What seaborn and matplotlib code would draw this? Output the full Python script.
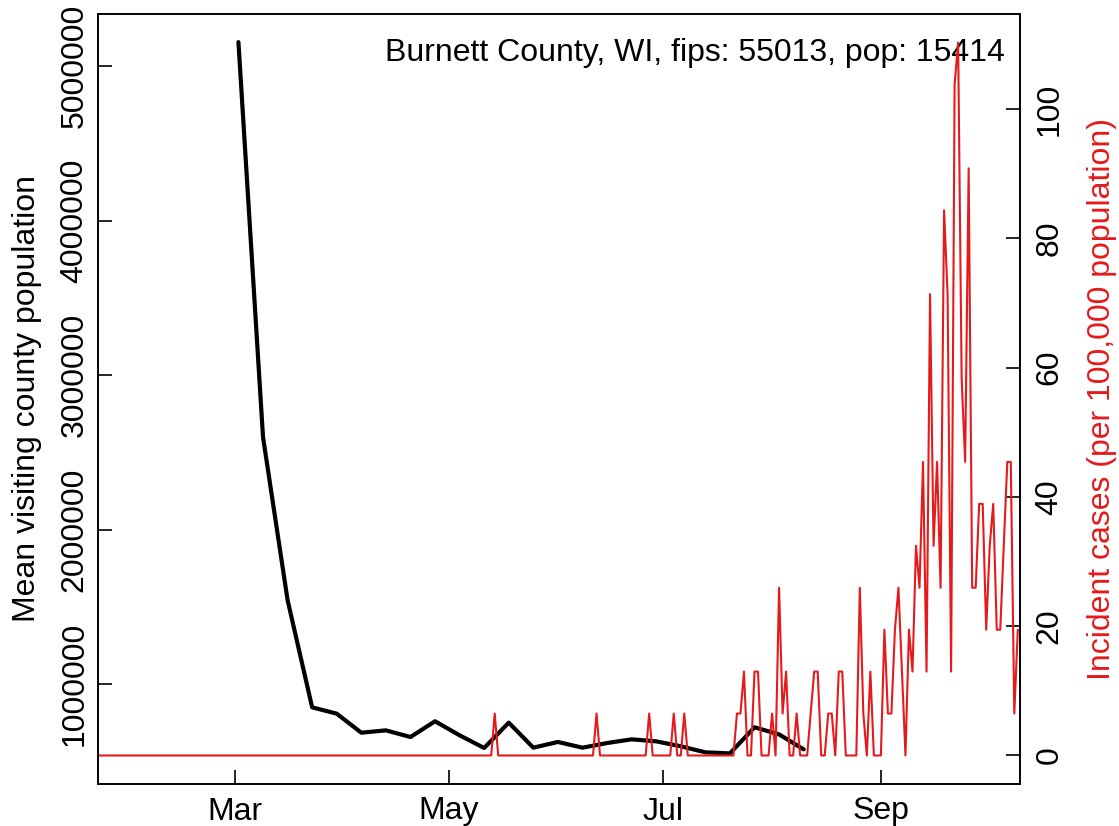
import matplotlib
matplotlib.use("Agg")
import matplotlib.pyplot as plt
import matplotlib.ticker as mticker
import pandas as pd
import seaborn as sns

# ---------------- data ----------------
# weekly mean visiting-county population (black line), starting 2020-03-02
visit_start = "2020-03-02"
visit_pop = [5155000, 2600000, 1545000, 851000, 810000, 687000, 702000, 659000,
             761000, 670000, 588000, 752000, 590000, 627000, 590000, 620000,
             644000, 631000, 599000, 560000, 553000, 722000, 676000, 579000]

# daily incident cases per 100,000 population (red line), starting 2020-01-22
inc_start = "2020-01-22"
inc_jan = [0, 0, 0, 0, 0, 0, 0, 0, 0, 0]
inc_feb = [0, 0, 0, 0, 0, 0, 0, 0, 0, 0, 0, 0, 0, 0, 0, 0, 0, 0, 0, 0,
           0, 0, 0, 0, 0, 0, 0, 0, 0]
inc_mar = [0, 0, 0, 0, 0, 0, 0, 0, 0, 0, 0, 0, 0, 0, 0, 0, 0, 0, 0, 0,
           0, 0, 0, 0, 0, 0, 0, 0, 0, 0, 0]
inc_apr = [0, 0, 0, 0, 0, 0, 0, 0, 0, 0, 0, 0, 0, 0, 0, 0, 0, 0, 0, 0,
           0, 0, 0, 0, 0, 0, 0, 0, 0, 0]
inc_may = [0, 0, 0, 0, 0, 0, 0, 0, 0, 0, 0, 0, 0, 6.49, 0, 0, 0, 0, 0, 0,
           0, 0, 0, 0, 0, 0, 0, 0, 0, 0, 0]
inc_jun = [0, 0, 0, 0, 0, 0, 0, 0, 0, 0, 0, 6.49, 0, 0, 0, 0, 0, 0, 0, 0,
           0, 0, 0, 0, 0, 0, 6.49, 0, 0, 0]
inc_jul = [0, 0, 0, 6.49, 0, 0, 6.49, 0, 0, 0, 0, 0, 0, 0, 0, 0, 0, 0, 0, 0,
           0, 6.49, 6.49, 12.98, 0, 0, 12.98, 12.98, 0, 0, 0]
inc_aug = [6.49, 0, 25.95, 6.49, 12.98, 0, 0, 6.49, 0, 0, 0, 6.49, 12.98, 12.98, 0, 0,
           6.49, 6.49, 0, 12.98, 12.98, 0, 0, 0, 0, 25.95, 6.49, 0, 12.98, 0, 0]
inc_sep = [0, 19.46, 6.49, 6.49, 19.46, 25.95, 12.98, 0, 19.46, 12.98, 32.44, 25.95,
           45.41, 12.98, 71.36, 32.44, 45.41, 25.95, 84.34, 71.36, 12.98, 103.80,
           110.29, 58.39, 45.41, 90.83, 25.95, 25.95, 38.93, 38.93]
inc_oct = [19.46, 32.44, 38.93, 19.46, 19.46, 32.44, 45.41, 45.41, 6.49, 19.46]

left_ticks = [1000000, 2000000, 3000000, 4000000, 5000000]
right_ticks = [0, 20, 40, 60, 80, 100]
month_ticks = ["2020-03-01", "2020-05-01", "2020-07-01", "2020-09-01"]
month_labels = ["Mar", "May", "Jul", "Sep"]
title_text = "Burnett County, WI, fips: 55013, pop: 15414"
left_label = "Mean visiting county population"
right_label = "Incident cases (per 100,000 population)"

incidence = inc_jan + inc_feb + inc_mar + inc_apr + inc_may + inc_jun + inc_jul + inc_aug + inc_sep + inc_oct
df_inc = pd.DataFrame({"date": pd.date_range(inc_start, periods=len(incidence), freq="D"),
                       "incidence": incidence})
df_vis = pd.DataFrame({"date": pd.date_range(visit_start, periods=len(visit_pop), freq="7D"),
                       "pop": visit_pop})

# ---------------- style ----------------
sns.set_style("ticks")
plt.rcParams["font.family"] = ["Liberation Sans", "DejaVu Sans"]
for key in ("text.color", "axes.labelcolor", "xtick.color", "ytick.color", "axes.edgecolor"):
    plt.rcParams[key] = "black"
RED = "#E41A1C"
FS = 23

fig = plt.figure(figsize=(11.19, 8.26), dpi=100)
ax = fig.add_axes([98 / 1119, 1 - 784 / 826, 922 / 1119, 770 / 826])
ax2 = ax.twinx()

sns.lineplot(data=df_vis, x="date", y="pop", ax=ax, color="black", linewidth=3.0,
             estimator=None, legend=False)
sns.lineplot(data=df_inc, x="date", y="incidence", ax=ax2, color=RED, linewidth=1.5,
             estimator=None, legend=False)

ax.set_xlim(pd.Timestamp("2020-01-22"), pd.Timestamp("2020-10-10 15:00"))
ax.set_ylim(355000, 5337000)
ax2.set_ylim(-4.41, 114.7)

ax.set_xticks(pd.to_datetime(month_ticks))
ax.set_xticklabels(month_labels)
ax.yaxis.set_major_locator(mticker.FixedLocator(left_ticks))
ax.set_yticklabels([str(t) for t in left_ticks])
ax2.yaxis.set_major_locator(mticker.FixedLocator(right_ticks))
ax2.set_yticklabels([str(t) for t in right_ticks])

ax.set_xlabel("")
ax.set_ylabel(left_label, fontsize=FS, color="black")
ax2.set_ylabel(right_label, fontsize=FS, color=RED)
ax.yaxis.set_label_coords((42 - 98) / 922, 0.5)
ax2.yaxis.set_label_coords((1087 - 98) / 922, 0.5)

ax.tick_params(axis="x", direction="in", length=10, width=1.2, pad=9, labelsize=FS,
               colors="black")
ax.tick_params(axis="y", direction="in", length=10, width=1.2, pad=6, labelsize=FS,
               labelrotation=90, colors="black")
ax2.tick_params(axis="y", direction="in", length=10, width=1.2, pad=10.5, labelsize=FS,
                labelrotation=90, colors="black")
for lab in ax.get_yticklabels():
    lab.set_va("center")
for lab in ax2.get_yticklabels():
    lab.set_va("center")

for a in (ax, ax2):
    for s in a.spines.values():
        s.set_visible(True)
        s.set_linewidth(1.2)
        s.set_color("black")

ax.text((1005 - 98) / 922, (784 - 38) / 770, title_text, transform=ax.transAxes,
        ha="right", va="top", fontsize=FS, color="black")

fig.savefig("out.png", dpi=100)
